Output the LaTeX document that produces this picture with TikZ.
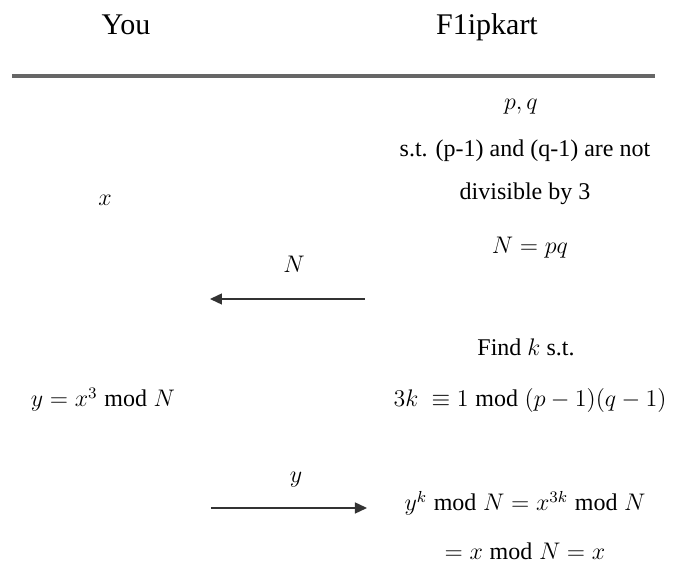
\documentclass[tikz,border=0pt]{standalone}
\usepackage{fontspec}
\setmainfont{Liberation Serif}
\usetikzlibrary{arrows.meta,positioning}
\tikzset{
  party/.style={anchor=base, font=\fontsize{15}{18}\selectfont},
  txt/.style={anchor=base, font=\fontsize{12}{14}\selectfont},
  hrule/.style={line width=1.6pt, black!60},
  msg/.style={-{Triangle[length=6pt, width=5.5pt]}, line width=0.7pt, black!80}
}

\begin{document}
\begin{tikzpicture}[x=0.5pt, y=-0.5pt]
  \useasboundingbox (0,0) rectangle (677,566);

  % parties
  \node[party] (you) at (126,35) {You};
  \node[party] (shop) at (487,35) {F1ipkart};
  \coordinate (ruleL) at (12,76);
  \coordinate (ruleR) at (655,76);
  \draw[hrule] (ruleL) -- (ruleR);

  % key generation
  \node[txt] (pq) at (521,110) {$p,q$};
  \node[txt] (cond) at (525,157) {s.t. (p-1) and (q-1) are not};
  \node[txt] (div) at (525,200) {divisible by 3};
  \node[txt] (modN) at (530,254) {$N = pq$};
  \node[txt] (secret) at (105,206) {$x$};

  % public modulus
  \coordinate (nFrom) at (365,299);
  \coordinate (nTo) at (210,299);
  \draw[msg] (nFrom) -- (nTo);
  \node[txt] (nLbl) at (294,273) {$N$};

  % inverse exponent and cube
  \node[txt] (find) at (526,356) {Find $k$ s.t.};
  \node[txt] (inv) at (530,407) {$3k\;\equiv 1 \bmod (p-1)(q-1)$};
  \node[txt] (cube) at (103,407) {$y = x^3 \bmod N$};

  % ciphertext
  \coordinate (yFrom) at (211,508);
  \coordinate (yTo) at (367,508);
  \draw[msg] (yFrom) -- (yTo);
  \node[txt] (yLbl) at (296,483) {$y$};

  % decryption
  \node[txt] (dec) at (525,511) {$y^k \bmod N = x^{3k} \bmod N$};
  \node[txt] (res) at (525,560) {$= x \bmod N = x$};
\end{tikzpicture}
\end{document}
